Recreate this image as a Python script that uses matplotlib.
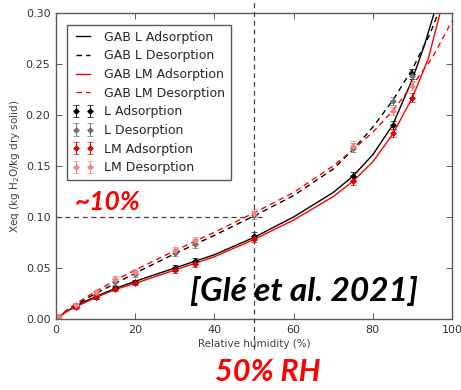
import numpy as np
import matplotlib
matplotlib.use("Agg")
from matplotlib import pyplot as plt
import matplotlib.transforms as mtransforms

# measured points (RH %, Xeq)
rh_pts = [0.5, 5, 10, 15, 20, 30, 35, 50, 75, 85, 90]
l_ads = [0.002, 0.013, 0.022, 0.030, 0.036, 0.050, 0.057, 0.081, 0.140, 0.190, 0.240]
l_ads_err = [0.002, 0.002, 0.002, 0.002, 0.002, 0.003, 0.003, 0.004, 0.004, 0.004, 0.005]
l_des = [0.002, 0.014, 0.025, 0.036, 0.044, 0.065, 0.074, 0.102, 0.168, 0.214, 0.238]
l_des_err = [0.002, 0.002, 0.002, 0.003, 0.003, 0.003, 0.004, 0.004, 0.004, 0.004, 0.005]
lm_ads = [0.002, 0.012, 0.022, 0.029, 0.035, 0.048, 0.054, 0.078, 0.135, 0.182, 0.217]
lm_ads_err = [0.002, 0.002, 0.002, 0.002, 0.002, 0.003, 0.003, 0.003, 0.004, 0.004, 0.004]
lm_des = [0.002, 0.014, 0.026, 0.039, 0.046, 0.068, 0.077, 0.104, 0.170, 0.204, 0.228]
lm_des_err = [0.002, 0.002, 0.002, 0.003, 0.003, 0.003, 0.003, 0.004, 0.004, 0.004, 0.004]

# GAB fitted curves
rh_l_ads = [0, 2.5, 5, 10, 15, 20, 30, 40, 50, 60, 70, 75, 80, 85, 90, 93, 95.5]
gab_l_ads = [0, 0.007, 0.013, 0.022, 0.030, 0.037, 0.050, 0.063, 0.080, 0.100, 0.124, 0.140, 0.161, 0.190, 0.235, 0.268, 0.30]
rh_l_des = [0, 2.5, 5, 10, 15, 20, 30, 40, 50, 60, 70, 75, 80, 85, 90, 94.5, 96.5]
gab_l_des = [0, 0.008, 0.014, 0.025, 0.035, 0.045, 0.064, 0.082, 0.101, 0.121, 0.147, 0.166, 0.188, 0.214, 0.245, 0.280, 0.30]
rh_lm_ads = [0, 2.5, 5, 10, 15, 20, 30, 40, 50, 60, 70, 75, 80, 85, 90, 94, 97]
gab_lm_ads = [0, 0.007, 0.012, 0.021, 0.029, 0.035, 0.048, 0.061, 0.078, 0.097, 0.120, 0.135, 0.154, 0.181, 0.217, 0.255, 0.30]
rh_lm_des = [0, 2.5, 5, 10, 15, 20, 30, 40, 50, 60, 70, 75, 80, 85, 90, 95, 100]
gab_lm_des = [0, 0.008, 0.015, 0.027, 0.038, 0.048, 0.067, 0.085, 0.104, 0.124, 0.150, 0.166, 0.183, 0.204, 0.229, 0.256, 0.292]

fig = plt.figure(figsize=(4.61, 3.90), dpi=100)
ax = fig.add_axes([0.1215, 0.182, 0.859, 0.785])

ax.plot(rh_l_ads, gab_l_ads, '-', color='k', lw=1, label='GAB L Adsorption')
ax.plot(rh_l_des, gab_l_des, '--', color='k', lw=1, dashes=(4, 3), label='GAB L Desorption')
ax.plot(rh_lm_ads, gab_lm_ads, '-', color='red', lw=1, label='GAB LM Adsorption')
ax.plot(rh_lm_des, gab_lm_des, '--', color='red', lw=1, dashes=(4, 3), label='GAB LM Desorption')

ekw = dict(fmt='D', markersize=3, capsize=2, elinewidth=0.7, capthick=0.7, markeredgewidth=0.5)
ax.errorbar(rh_pts, l_ads, yerr=l_ads_err, color='k', label='L Adsorption', **ekw)
ax.errorbar(rh_pts, l_des, yerr=l_des_err, color='#707070', label='L Desorption', **ekw)
ax.errorbar(rh_pts, lm_ads, yerr=lm_ads_err, color='#e00000', label='LM Adsorption', **ekw)
ax.errorbar(rh_pts, lm_des, yerr=lm_des_err, color='#ff8080', label='LM Desorption', **ekw)

ax.set_xlim(0, 100)
ax.set_ylim(0, 0.30)
ax.set_xticks([0, 20, 40, 60, 80, 100])
ax.set_yticks([0, 0.05, 0.10, 0.15, 0.20, 0.25, 0.30])
ax.set_yticklabels(['0.00', '0.05', '0.10', '0.15', '0.20', '0.25', '0.30'])
ax.tick_params(direction='in', top=True, right=True, length=4, width=0.6,
               labelsize=8, colors='0.25', labelcolor='0.2', pad=4)
for s in ax.spines.values():
    s.set_color('0.35')
    s.set_linewidth(1)

ax.set_xlabel('Relative humidity (%)', fontsize=7.5, color='0.25', labelpad=3)
ax.set_ylabel('Xeq (kg H$_2$O/kg dry solid)', fontsize=7.5, color='0.25', labelpad=3)

leg = ax.legend(loc='upper left', numpoints=2, fontsize=9, handlelength=1.7,
                labelspacing=0.45, borderpad=0.45, handletextpad=0.8,
                fancybox=False, framealpha=1, edgecolor='0.35',
                bbox_to_anchor=(0.012, 0.98))
leg.get_frame().set_linewidth(1)
for t in leg.get_texts():
    t.set_color('0.15')

# annotation lines
blend = mtransforms.blended_transform_factory(ax.transData, fig.transFigure)
ax.plot([50, 50], [0.105, 1.0], transform=blend, color='0.25', lw=0.9,
        dashes=(4, 3), clip_on=False)
ax.plot([0, 52], [0.10, 0.10], color='0.25', lw=0.9, dashes=(4, 3))

fig.text(0.163, 0.482, '~10%', color='red', fontsize=19, fontweight='bold',
         style='italic', family='Lato', ha='left', va='center')
fig.text(0.412, 0.255, '[Glé et al. 2021]', color='black', fontsize=24, fontweight='bold',
         style='italic', family='Lato', ha='left', va='center')
fig.text(0.466, 0.045, '50% RH', color='red', fontsize=22, fontweight='bold',
         style='italic', family='Lato', ha='left', va='center')

fig.savefig('out.png', dpi=100)
